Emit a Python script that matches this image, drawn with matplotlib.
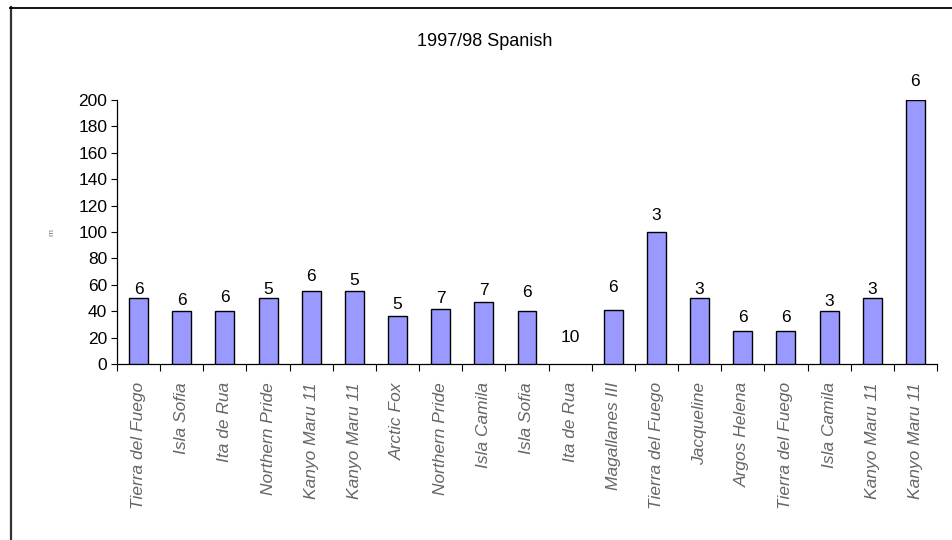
import matplotlib
matplotlib.use("Agg")
import matplotlib.pyplot as plt
from matplotlib.lines import Line2D
import numpy as np

vessels = [
    "Tierra del Fuego", "Isla Sofia", "Ita de Rua", "Northern Pride", "Kanyo Maru 11",
    "Kanyo Maru 11", "Arctic Fox", "Northern Pride", "Isla Camila", "Isla Sofia",
    "Ita de Rua", "Magallanes III", "Tierra del Fuego", "Jacqueline", "Argos Helena",
    "Tierra del Fuego", "Isla Camila", "Kanyo Maru 11", "Kanyo Maru 11",
]
lengths_m = [50, 40, 40, 50, 55, 55, 36, 42, 47, 40, 0, 41, 100, 50, 25, 25, 40, 50, 200]
counts = [6, 6, 6, 5, 6, 5, 5, 7, 7, 6, 10, 6, 3, 3, 6, 6, 3, 3, 6]

# vertical lift of each count label above its bar (pixels)
label_lift = [9, 11, 14, 9, 15, 11, 12, 10, 11, 19, 27, 22, 17, 9, 13, 13, 10, 8, 18]

W, H = 953, 540
fig = plt.figure(figsize=(W / 100, H / 100), dpi=100)
plt.rcParams["font.family"] = ["Liberation Sans", "DejaVu Sans"]

ax = fig.add_axes([117 / W, 1 - 364 / H, (937 - 117) / W, (364 - 100) / H])

x = np.arange(len(vessels))
edge_w = [1.0 if v > 0 else 0.0 for v in lengths_m]
ax.bar(x, lengths_m, width=0.44, color="#9999ff", edgecolor="#000000", linewidth=edge_w, zorder=3)

for xi, v, c, lift in zip(x, lengths_m, counts, label_lift):
    ax.annotate(str(c), (xi, v), xytext=(0, lift * 0.72), textcoords="offset points",
                ha="center", va="center", fontsize=12.5, color="#000000")

ax.set_xlim(-0.5, len(vessels) - 0.5)
ax.set_ylim(0, 200)
ax.set_yticks(np.arange(0, 201, 20))
ax.tick_params(axis="y", direction="out", length=4, width=0.8, labelsize=12.5, pad=3)

ax.set_xticks(x)
ax.set_xticklabels(vessels, rotation=90, fontsize=12.5, style="italic", color="#666666",
                   va="top", ha="center")
ax.tick_params(axis="x", which="major", length=0, pad=13)
ax.set_xticks(np.arange(-0.5, len(vessels), 1.0), minor=True)
ax.tick_params(axis="x", which="minor", direction="out", length=5, width=0.8)

for side in ("top", "right"):
    ax.spines[side].set_visible(False)
for side in ("left", "bottom"):
    ax.spines[side].set_linewidth(0.9)

fig.text(485 / W, 1 - 41 / H, "1997/98 Spanish", ha="center", va="center", fontsize=13)
fig.text(52 / W, 1 - 232 / H, "m", ha="center", va="center", rotation=90,
         fontsize=6, color="#777777")

# frame around the chart area
fig.add_artist(Line2D([10.5 / W, 10.5 / W], [0, 1 - 7 / H], transform=fig.transFigure,
                      color="#333333", linewidth=1.6))
fig.add_artist(Line2D([10 / W, 1], [1 - 7.5 / H, 1 - 7.5 / H], transform=fig.transFigure,
                      color="#000000", linewidth=1.3))

fig.savefig("out.png", dpi=100, facecolor="white")
